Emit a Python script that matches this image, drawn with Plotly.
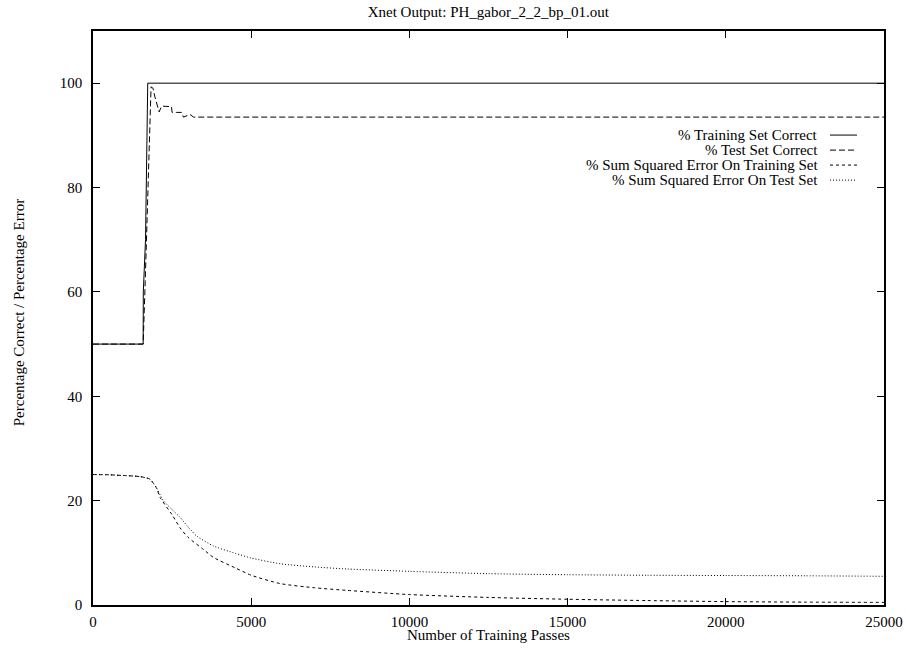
import plotly.graph_objects as go

# ---- data ----
train_correct_x = [0, 1585, 1590, 1660, 1730, 25000]
train_correct_y = [50, 50, 60, 70, 100, 100]

test_correct_x = [0, 1585, 1650, 1750, 1835, 1900, 1950, 2090, 2170, 2480, 2500, 2646, 2800, 2857, 3070, 3176, 25000]
test_correct_y = [50, 50, 62, 85, 99.3, 99.0, 97.5, 94.5, 95.6, 95.5, 94.4, 94.4, 94.4, 93.5, 94.0, 93.5, 93.5]

sse_train_x = [0, 500, 1000, 1500, 1800, 2000, 2120, 2500, 2750, 3000, 3500, 3810, 4500, 5000, 5920, 7000, 8030,
               10000, 12500, 15000, 17500, 20000, 22500, 25000]
sse_train_y = [25, 24.95, 24.8, 24.6, 24.1, 22.5, 20.6, 17.3, 14.8, 13.0, 10.6, 9.1, 7.1, 5.7, 4.1, 3.3, 2.8,
               2.0, 1.45, 1.1, 0.85, 0.65, 0.55, 0.5]

sse_test_x = [0, 500, 1000, 1500, 1800, 2000, 2225, 2500, 2750, 3000, 3280, 3810, 4500, 5000, 5920, 7000, 8030,
              10000, 12500, 15000, 17500, 20000, 22500, 25000]
sse_test_y = [25, 24.95, 24.8, 24.6, 24.1, 22.5, 20.0, 18.3, 16.8, 15.0, 13.2, 11.3, 9.9, 9.0, 7.9, 7.3, 6.9,
              6.45, 6.0, 5.8, 5.7, 5.65, 5.6, 5.5]

series_names = [
    "% Training Set Correct",
    "% Test Set Correct",
    "% Sum Squared Error On Training Set",
    "% Sum Squared Error On Test Set",
]
x_ticks = [0, 5000, 10000, 15000, 20000, 25000]
y_ticks = [0, 20, 40, 60, 80, 100]

FONT = "Liberation Serif, Times New Roman, serif"
FS = 15
dashes = ["solid", "6px,3px", "3px,3px", "1px,2px"]
shapes_ = ["linear", "linear", "spline", "spline"]

fig = go.Figure()
for (xs, ys), name, d, sh in zip(
    [(train_correct_x, train_correct_y), (test_correct_x, test_correct_y),
     (sse_train_x, sse_train_y), (sse_test_x, sse_test_y)],
    series_names, dashes, shapes_):
    fig.add_trace(go.Scatter(x=xs, y=ys, mode="lines", name=name,
                             line=dict(color="black", width=1, dash=d, shape=sh, smoothing=0.6),
                             showlegend=False))

# custom gnuplot-style legend: right-aligned text with sample on the right
leg_rows = [0.8187, 0.7925, 0.7664, 0.7402]
for name, d, yy in zip(series_names, dashes, leg_rows):
    fig.add_annotation(xref="paper", yref="paper", x=0.919, y=yy, text=name,
                       showarrow=False, xanchor="right", yanchor="middle",
                       font=dict(family=FONT, size=FS, color="black"))
    fig.add_shape(type="line", xref="paper", yref="paper", x0=0.9317, x1=0.9659,
                  y0=yy, y1=yy, line=dict(color="black", width=1, dash=d))

# axis titles
fig.add_annotation(xref="paper", yref="paper", x=0.4994, y=-0.053, text="Number of Training Passes",
                   showarrow=False, xanchor="center", yanchor="middle",
                   font=dict(family=FONT, size=FS, color="black"))
fig.add_annotation(xref="paper", yref="paper", x=-0.0936, y=0.51,
                   text="Percentage Correct / Percentage Error", textangle=-90,
                   showarrow=False, xanchor="center", yanchor="middle",
                   font=dict(family=FONT, size=FS, color="black"))

axis_common = dict(
    showgrid=False, zeroline=False, showline=True, linecolor="black", linewidth=1.5,
    mirror="ticks", ticks="inside", ticklen=7, tickcolor="black", tickwidth=1,
    tickfont=dict(family=FONT, size=FS, color="black"), automargin=False,
)

fig.update_layout(
    width=906, height=648,
    margin=dict(l=93, r=22, t=31, b=43),
    paper_bgcolor="white", plot_bgcolor="white",
    title=dict(text="Xnet Output: PH_gabor_2_2_bp_01.out", x=0.539, xanchor="center",
               y=0.982, yanchor="middle", font=dict(family=FONT, size=FS, color="black")),
    xaxis=dict(range=[0, 25000], tickvals=x_ticks, ticktext=[str(v) for v in x_ticks],
               ticklabelstandoff=2, **axis_common),
    yaxis=dict(range=[0, 110], tickvals=y_ticks, ticktext=[str(v) for v in y_ticks],
               ticklabelstandoff=6, **axis_common),
    showlegend=False,
)

fig.write_html("out.html", config={"displayModeBar": False},
               post_script="document.body.style.margin='0';")
